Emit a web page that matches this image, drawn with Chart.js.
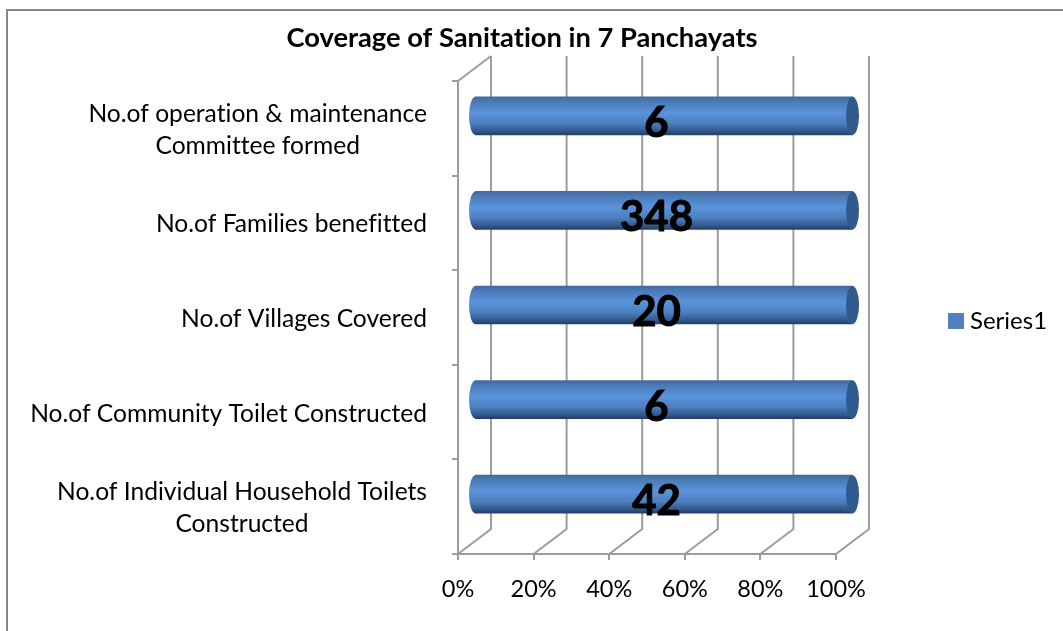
<!DOCTYPE html>
<html><head><meta charset="utf-8">
<style>html,body{margin:0;padding:0;background:#fff}#wrap{position:relative;width:1063px;height:631px;overflow:hidden}</style>
<script src="https://cdn.jsdelivr.net/npm/chart.js@4"></script>
</head><body><div id="wrap"><canvas id="c" width="1063" height="631"></canvas></div>
<script>
const chartTitle = 'Coverage of Sanitation in 7 Panchayats';
const seriesName = 'Series1';
const categories = [
  ['No.of operation & maintenance','Committee formed'],
  'No.of Families benefitted',
  'No.of Villages Covered',
  'No.of Community Toilet Constructed',
  ['No.of Individual Household Toilets','Constructed']
];
const values = [6, 348, 20, 6, 42];
const shares = values.map(v => v / v * 100); // single series in a 100% stacked chart

const DEPTH_X = 33, DEPTH_Y = 25, GRID = '#9c9c9c';
const FF = 'Lato, Carlito, Calibri, sans-serif';
const BLUE = '#4f81bd';

function fill(ctx, top, h){
  const g = ctx.createLinearGradient(0, top, 0, top + h);
  g.addColorStop(0, '#41699d');
  g.addColorStop(0.12, '#4a7ab5');
  g.addColorStop(0.42, '#5b93dc');
  g.addColorStop(0.7, '#4c7fbd');
  g.addColorStop(0.9, '#33588c');
  g.addColorStop(1, '#223f68');
  return g;
}

const depthPlugin = {
  id: 'depth',
  beforeDraw(chart){
    const {ctx} = chart;
    ctx.textRendering = 'optimizeSpeed'; // no tt / fi ligatures
    // frame: only the top and left edges show in the picture
    ctx.save(); ctx.strokeStyle = '#868686'; ctx.lineWidth = 2;
    ctx.beginPath(); ctx.moveTo(7, 631); ctx.lineTo(7, 10); ctx.lineTo(1063, 10); ctx.stroke();
    ctx.restore();
    // multi-line category labels: centred block, right edge at the axis
    const y = chart.scales.y;
    const items = y.getLabelItems(chart.chartArea);
    if (!items._centred){
      items._centred = true;
      const c = ctx; c.save(); c.font = y.options.ticks.font.size + 'px ' + FF;
      items.forEach(it => {
        const lines = Array.isArray(it.label) ? it.label : [it.label];
        const w = Math.max(...lines.map(l => c.measureText(l).width));
        it.options.textAlign = 'center';
        it.options.translation = [it.options.translation[0] - w/2, it.options.translation[1] + 1.5];
      });
      c.restore();
    }
    const t = chart.titleBlock;
    t.left = 0; t.right = 1044; t.top = 22;
    const lg = chart.legend;
    const dx = lg.right - lg.left;
    lg.left = 944; lg.right = 944 + dx;
    const h = lg.height;
    lg.top = 321 - h/2; lg.bottom = lg.top + h;
  },
  beforeDatasetsDraw(chart){
    const {ctx, chartArea:a} = chart, x = chart.scales.x;
    ctx.save(); ctx.strokeStyle = GRID; ctx.lineWidth = 2;
    x.ticks.forEach((_, i) => {
      const px = x.getPixelForTick(i);
      ctx.beginPath();
      ctx.moveTo(px, a.bottom);
      ctx.lineTo(px + DEPTH_X, a.bottom - DEPTH_Y);
      ctx.lineTo(px + DEPTH_X, a.top - DEPTH_Y);
      ctx.stroke();
    });
    ctx.beginPath();
    ctx.moveTo(a.left, a.top);
    ctx.lineTo(a.left + DEPTH_X, a.top - DEPTH_Y);
    ctx.stroke();
    ctx.restore();
    // bars sit half way into the depth of the box
    ctx.save();
    ctx.translate(DEPTH_X/2, -DEPTH_Y/2);
    chart.getDatasetMeta(0).data.forEach(b => {
      const h = b.height;
      ctx.fillStyle = fill(ctx, b.y - h/2, h);
      ctx.beginPath();
      ctx.ellipse(b.base, b.y, 6.5, h/2, 0, 0, Math.PI*2);
      ctx.fill();
    });
  },
  afterDatasetsDraw(chart){
    const {ctx} = chart;
    chart.getDatasetMeta(0).data.forEach(b => {
      const h = b.height;
      ctx.fillStyle = '#315a8c';
      ctx.beginPath();
      ctx.ellipse(b.x, b.y, 6.5, h/2, 0, 0, Math.PI*2);
      ctx.fill();
    });
    ctx.restore();
    ctx.save();
    ctx.fillStyle = '#000'; ctx.strokeStyle = '#000'; ctx.lineWidth = 1;
    ctx.font = 'bold 42px ' + FF;
    ctx.textAlign = 'center'; ctx.textBaseline = 'middle';
    chart.getDatasetMeta(0).data.forEach((b, i) => {
      const px = (b.base + b.x)/2 + 9, py = b.y - 5;
      ctx.fillText(String(values[i]), px, py);
      ctx.strokeText(String(values[i]), px, py);
    });
    ctx.restore();
  }
};

new Chart(document.getElementById('c'), {
  type: 'bar',
  data: {
    labels: categories,
    datasets: [{
      label: seriesName,
      data: shares,
      barThickness: 38,
      clip: false,
      borderWidth: 0,
      backgroundColor(c){
        if (c.type !== 'data' || !c.chart.scales.y) return BLUE;
        const py = c.chart.scales.y.getPixelForValue(c.dataIndex);
        return Number.isFinite(py) ? fill(c.chart.ctx, py - 19, 38) : BLUE;
      }
    }]
  },
  plugins: [depthPlugin],
  options: {
    indexAxis: 'y',
    responsive: false,
    animation: false,
    layout: {padding: 0},
    scales: {
      x: {
        min: 0, max: 100,
        afterFit(s){ s.height = 77; s.paddingRight = 227; s.paddingLeft = 0; },
        ticks: {stepSize: 20, maxRotation: 0, padding: 15, color: '#000',
          font: {family: FF, size: 23.5}, callback: v => v + '%'},
        grid: {drawOnChartArea: false, drawTicks: true, tickLength: 6, color: GRID, lineWidth: 2},
        border: {display: true, color: GRID, width: 2}
      },
      y: {
        afterFit(s){ s.width = 458; s.paddingTop = 81; },
        ticks: {padding: 25, color: '#000', font: {family: FF, size: 24.6, lineHeight: 1.3}},
        grid: {offset: true, drawOnChartArea: false, drawTicks: true, tickLength: 6, color: GRID, lineWidth: 2},
        border: {display: true, color: GRID, width: 2}
      }
    },
    plugins: {
      title: {display: true, text: chartTitle, color: '#000', padding: 0,
        font: {family: FF, size: 27.3, weight: 'bold'}},
      legend: {display: true, position: 'right',
        labels: {boxWidth: 4, boxHeight: 4, padding: 10, color: '#000',
          font: {family: FF, size: 24},
          generateLabels: c => Chart.defaults.plugins.legend.labels.generateLabels(c)
            .map(l => ({...l, fillStyle: BLUE, strokeStyle: BLUE, lineWidth: 12}))}},
      tooltip: {enabled: false}
    }
  }
});
</script></body></html>
